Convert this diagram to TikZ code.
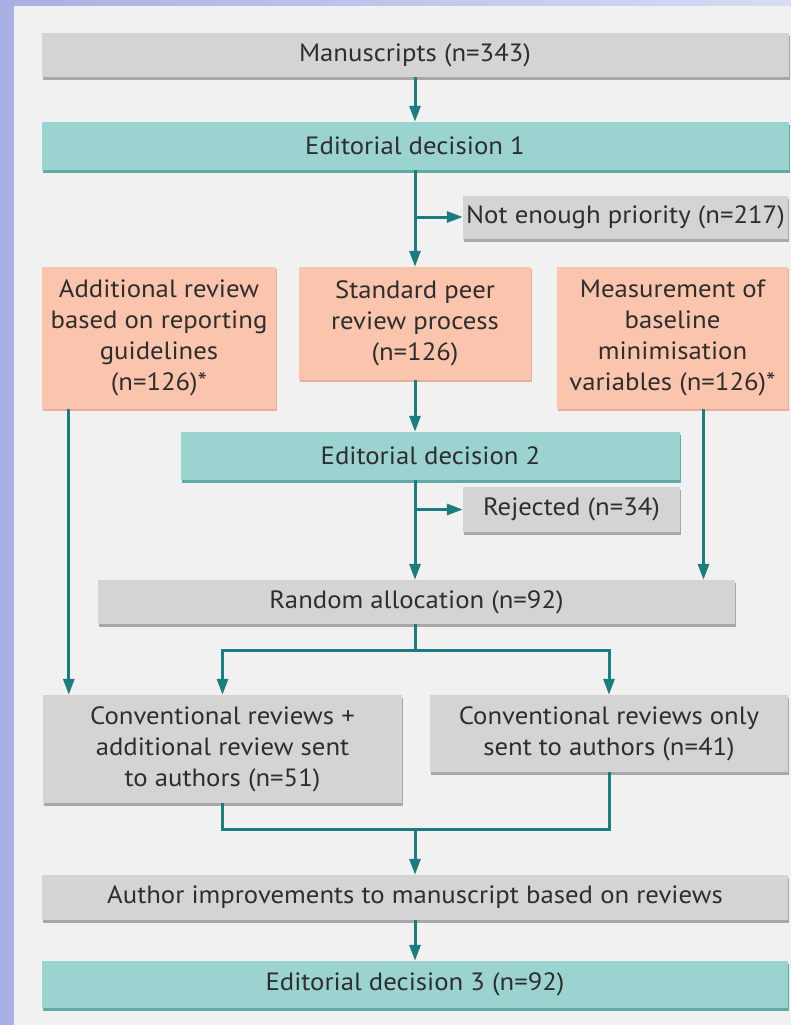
\documentclass[tikz,border=0pt]{standalone}
\usepackage{fontspec}
\setmainfont{PT Sans}[FakeStretch=1.07]
\usepackage{tikz}
\usetikzlibrary{arrows.meta,shadows}

\definecolor{frame}{HTML}{A9B0E3}
\definecolor{framelight}{HTML}{D7DBF4}
\definecolor{paper}{HTML}{F1F1F1}
\definecolor{boxgrey}{HTML}{D4D4D4}
\definecolor{boxgreyshade}{HTML}{A8A8A8}
\definecolor{boxteal}{HTML}{9AD3CF}
\definecolor{boxtealshade}{HTML}{5EABA6}
\definecolor{boxsalmon}{HTML}{FBC4AD}
\definecolor{boxsalmonshade}{HTML}{E9AE98}
\definecolor{flowline}{HTML}{1A7E7E}
\definecolor{inktext}{HTML}{2E2E2E}

\begin{document}
\begin{tikzpicture}[x=1pt, y=-1pt,
	font=\fontsize{25}{31}\selectfont,
	box/.style={rectangle, align=center, inner sep=0pt, text=inktext},
	greybox/.style={box, fill=boxgrey, drop shadow={fill=boxgreyshade, opacity=1, shadow xshift=1pt, shadow yshift=-3pt}},
	tealbox/.style={box, fill=boxteal, drop shadow={fill=boxtealshade, opacity=1, shadow xshift=1pt, shadow yshift=-3pt}},
	salmonbox/.style={box, fill=boxsalmon, drop shadow={fill=boxsalmonshade, opacity=1, shadow xshift=1pt, shadow yshift=-2pt}},
	flow/.style={flowline, line width=3pt},
	>={Triangle[length=16pt,width=11pt]}]
\useasboundingbox (0,0) rectangle (791,1025);
\fill[paper] (0,0) rectangle (791,1025);
\fill[left color=frame, right color=framelight] (0,0) rectangle (791,6);
\fill[frame] (0,0) rectangle (14,1025);

\node[greybox, minimum width=747pt, minimum height=44pt] (man) at (415,55) {Manuscripts (n=343)};
\node[tealbox, minimum width=747pt, minimum height=48pt] (ed1) at (415,146) {Editorial decision 1};
\node[greybox, minimum width=325pt, minimum height=43pt] (prio) at (625.5,217) {Not enough priority (n=217)};
\node[salmonbox, minimum width=234pt, minimum height=142pt] (addrev) at (159,338) {Additional review\\based on reporting\\guidelines\\(n=126)*};
\node[salmonbox, minimum width=232pt, minimum height=113pt] (std) at (415,323.5) {Standard peer\\review process\\(n=126)};
\node[salmonbox, minimum width=231pt, minimum height=142pt] (meas) at (672.5,338) {Measurement of\\baseline\\minimisation\\variables (n=126)*};
\node[tealbox, minimum width=499pt, minimum height=48pt] (ed2) at (430.5,456) {Editorial decision 2};
\node[greybox, minimum width=217pt, minimum height=45pt] (rej) at (571.5,509.5) {Rejected (n=34)};
\node[greybox, minimum width=637pt, minimum height=44pt] (rand) at (416.5,602) {Random allocation (n=92)};
\node[greybox, minimum width=359pt, minimum height=108pt] (conv1) at (222.5,749) {Conventional reviews +\\additional review sent\\to authors (n=51)};
\node[greybox, minimum width=358pt, minimum height=77pt] (conv2) at (609,733.5) {Conventional reviews only\\sent to authors (n=41)};
\node[greybox, minimum width=746pt, minimum height=45pt] (auth) at (415,897.5) {Author improvements to manuscript based on reviews};
\node[tealbox, minimum width=746pt, minimum height=47pt] (ed3) at (415,984.5) {Editorial decision 3 (n=92)};

\coordinate (split) at (415,650);
\coordinate (merge) at (415,829);

\path[flow, ->]
(man) edge (ed1)
(ed1) edge (std)
(ed1.south |- prio.west) edge (prio.west)
(std) edge (std |- ed2.north)
(std |- ed2.south) edge (std |- rand.north)
(std |- rej.west) edge (rej.west)
([xshift=27pt]addrev.south west) edge ([xshift=27pt]addrev.south west |- conv1.north)
([xshift=31pt]meas.south) edge ([xshift=31pt]meas.south |- rand.north)
(merge) edge (auth)
(auth) edge (ed3)
;
\draw[flow] (rand.south -| split) -- (split);
\draw[flow, ->] (split) -| (conv1);
\draw[flow, ->] (split) -| (conv2);
\draw[flow] (conv1) |- (merge);
\draw[flow] (conv2) |- (merge);
\end{tikzpicture}
\end{document}
